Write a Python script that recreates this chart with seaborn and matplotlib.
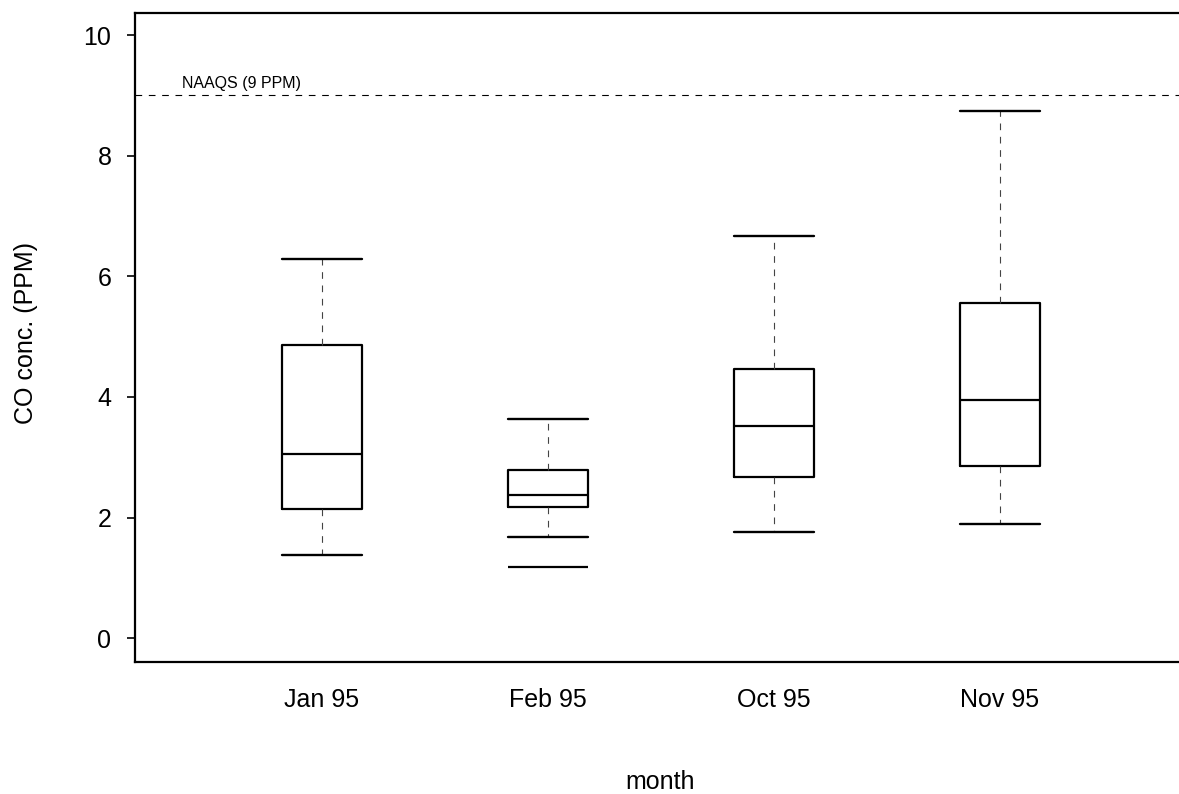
import matplotlib
matplotlib.use("Agg")
import matplotlib.pyplot as plt
import seaborn as sns

# box summary (PPM)
months = ["Jan 95", "Feb 95", "Oct 95", "Nov 95"]
whisker_low = [1.38, 1.68, 1.76, 1.89]
q1 = [2.14, 2.17, 2.67, 2.86]
medians = [3.06, 2.38, 3.52, 3.95]
q3 = [4.86, 2.79, 4.47, 5.56]
whisker_high = [6.28, 3.64, 6.66, 8.74]
outliers = [[], [1.18], [], []]
naaqs = 9
yticks = [0, 2, 4, 6, 8, 10]

sns.set_theme(style="white")
plt.rcParams["font.family"] = ["Liberation Sans", "DejaVu Sans"]

stats = []
for i, m in enumerate(months):
    stats.append({
        "label": m,
        "whislo": whisker_low[i],
        "q1": q1[i],
        "med": medians[i],
        "q3": q3[i],
        "whishi": whisker_high[i],
        "fliers": outliers[i],
    })

fig = plt.figure(figsize=(11.79, 7.94), dpi=100)
ax = fig.add_axes([0.1145, 0.1666, 0.8855, 0.8174])

ax.bxp(stats, positions=[1, 2, 3, 4], widths=0.35, capwidths=0.35, showfliers=True,
       boxprops=dict(color="black", linewidth=1.6),
       medianprops=dict(color="black", linewidth=1.6),
       whiskerprops=dict(color="#444444", linewidth=0.8, linestyle=(0, (6, 6))),
       capprops=dict(color="black", linewidth=1.7),
       flierprops=dict(marker="_", markersize=57, markeredgewidth=1.6,
                       markeredgecolor="black"))

# reference level
ax.axhline(naaqs, color="black", linewidth=0.8, linestyle=(0, (6, 6)))
ax.text(0.38, naaqs + 0.08, "NAAQS (9 PPM)", fontsize=11.5, color="black",
        ha="left", va="bottom")

ax.set_xlim(0.1726, 4.792)
ax.set_ylim(-0.39, 10.37)
ax.set_yticks(yticks)
ax.set_xticks([1, 2, 3, 4])
ax.set_xticklabels(months)

ax.tick_params(axis="y", which="major", left=True, length=6, width=1.2,
               color="black", pad=11, labelsize=18, labelcolor="black")
ax.tick_params(axis="x", which="major", bottom=False, pad=13,
               labelsize=18, labelcolor="black")

for side in ["left", "top", "bottom"]:
    ax.spines[side].set_color("black")
    ax.spines[side].set_linewidth(1.6)
ax.spines["right"].set_visible(False)

ax.set_xlabel("month", fontsize=18, color="black")
ax.xaxis.set_label_coords(0.503, -0.167)
ax.set_ylabel("CO conc. (PPM)", fontsize=18, color="black")
ax.yaxis.set_label_coords(-0.093, 0.506)

fig.savefig("out.png", dpi=100)
